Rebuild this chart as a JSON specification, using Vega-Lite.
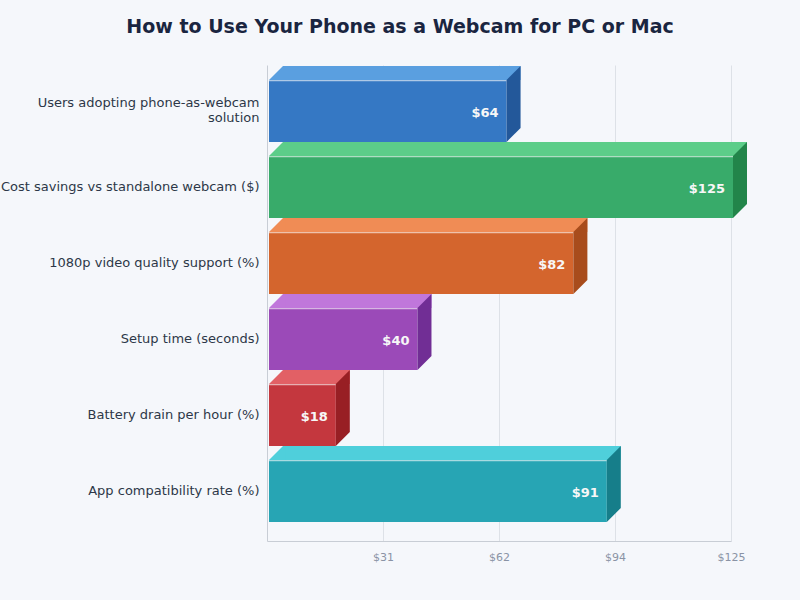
{
  "$schema": "https://vega.github.io/schema/vega-lite/v6.json",
  "autosize": "none",
  "width": 464,
  "height": 476,
  "padding": {"left": 267, "top": 65, "right": 69, "bottom": 59},
  "background": "#f5f7fb",
  "view": {"stroke": null},
  "title": {
    "text": "How to Use Your Phone as a Webcam for PC or Mac",
    "font": "DejaVu Sans",
    "fontSize": 19,
    "fontWeight": "bold",
    "color": "#1a2540",
    "anchor": "middle",
    "dx": -99,
    "baseline": "alphabetic",
    "offset": 13
  },
  "config": {
    "font": "DejaVu Sans",
    "axis": {"labelFont": "DejaVu Sans", "titleFont": "DejaVu Sans"}
  },
  "data": {
    "values": [
      {"metric": "Users adopting phone-as-webcam solution", "value": 64},
      {"metric": "Cost savings vs standalone webcam ($)", "value": 125},
      {"metric": "1080p video quality support (%)", "value": 82},
      {"metric": "Setup time (seconds)", "value": 40},
      {"metric": "Battery drain per hour (%)", "value": 18},
      {"metric": "App compatibility rate (%)", "value": 91}
    ]
  },
  "resolve": {"scale": {"color": "independent"}},
  "layer": [
    {
      "mark": {"type": "bar", "xOffset": 2, "x2Offset": 2},
      "encoding": {
        "y": {
          "field": "metric",
          "type": "nominal",
          "sort": null,
          "title": null,
          "scale": {"type": "band", "paddingInner": 0.1842, "paddingOuter": 0.2237, "align": 0.441},
          "axis": {
            "ticks": false,
            "labelPadding": 8,
            "labelFontSize": 13,
            "labelColor": "#2d3748",
            "labelLimit": 400,
            "labelOffset": {"condition": {"test": "datum.value == 'Users adopting phone-as-webcam solution'", "value": -8}, "value": 0},
            "domainColor": "#c8cdd5",
            "grid": false,
            "labelExpr": "datum.label == 'Users adopting phone-as-webcam solution' ? ['Users adopting phone-as-webcam', 'solution'] : datum.label"
          }
        },
        "x": {
          "field": "value",
          "type": "quantitative",
          "title": null,
          "scale": {"domain": [0, 125], "nice": false},
          "axis": {
            "values": [31.25, 62.5, 93.75, 125],
            "labelExpr": "'$' + floor(datum.value + 0.49)",
            "labelFlush": false,
            "ticks": false,
            "labelPadding": 10,
            "labelFontSize": 11,
            "labelColor": "#8a93a5",
            "domainColor": "#c8cdd5",
            "gridColor": "#dde1e7"
          }
        },
        "color": {
          "field": "metric",
          "type": "nominal",
          "sort": null,
          "legend": null,
          "scale": {"range": ["#3578c4", "#38ab6a", "#d4652d", "#9b4ab8", "#c4373e", "#27a5b4"]}
        }
      }
    },
    {
      "mark": {"type": "bar", "height": 1.5, "yOffset": -30.5, "xOffset": 2, "x2Offset": 2, "color": "#ffffff", "opacity": 0.6},
      "encoding": {
        "y": {"field": "metric", "type": "nominal", "sort": null},
        "x": {"field": "value", "type": "quantitative"}
      }
    },
    {
      "mark": {"type": "bar", "height": 14, "yOffset": -38, "xOffset": 16, "x2Offset": 16},
      "encoding": {
        "y": {"field": "metric", "type": "nominal", "sort": null},
        "x": {"field": "value", "type": "quantitative"},
        "color": {
          "field": "metric",
          "type": "nominal",
          "sort": null,
          "legend": null,
          "scale": {"range": ["#5a9fe0", "#5ccd89", "#f08c55", "#c077db", "#e26065", "#4fcfdb"]}
        }
      }
    },
    {
      "mark": {"type": "point", "shape": "M0,-31L14,-45L16.5,-45L16.5,-31Z", "size": 4, "filled": true, "opacity": 1, "strokeWidth": 0, "xOffset": 2},
      "encoding": {
        "y": {"field": "metric", "type": "nominal", "sort": null},
        "x": {"datum": 0, "type": "quantitative"},
        "color": {
          "field": "metric",
          "type": "nominal",
          "sort": null,
          "legend": null,
          "scale": {"range": ["#5a9fe0", "#5ccd89", "#f08c55", "#c077db", "#e26065", "#4fcfdb"]}
        }
      }
    },
    {
      "mark": {"type": "point", "shape": "M0,-31L14,-45L14,17L0,31Z", "size": 4, "filled": true, "opacity": 1, "strokeWidth": 0, "xOffset": 2},
      "encoding": {
        "y": {"field": "metric", "type": "nominal", "sort": null},
        "x": {"field": "value", "type": "quantitative"},
        "color": {
          "field": "metric",
          "type": "nominal",
          "sort": null,
          "legend": null,
          "scale": {"range": ["#23589a", "#22854a", "#a84c1c", "#712e95", "#981f24", "#167e8a"]}
        }
      }
    },
    {
      "mark": {"type": "text", "align": "right", "baseline": "middle", "dx": -6, "dy": 2.5, "fontSize": 13, "fontWeight": "bold", "color": "#f7f7f7"},
      "encoding": {
        "y": {"field": "metric", "type": "nominal", "sort": null},
        "x": {"field": "value", "type": "quantitative"},
        "text": {"field": "value", "type": "quantitative", "format": "$.0f"}
      }
    }
  ]
}
